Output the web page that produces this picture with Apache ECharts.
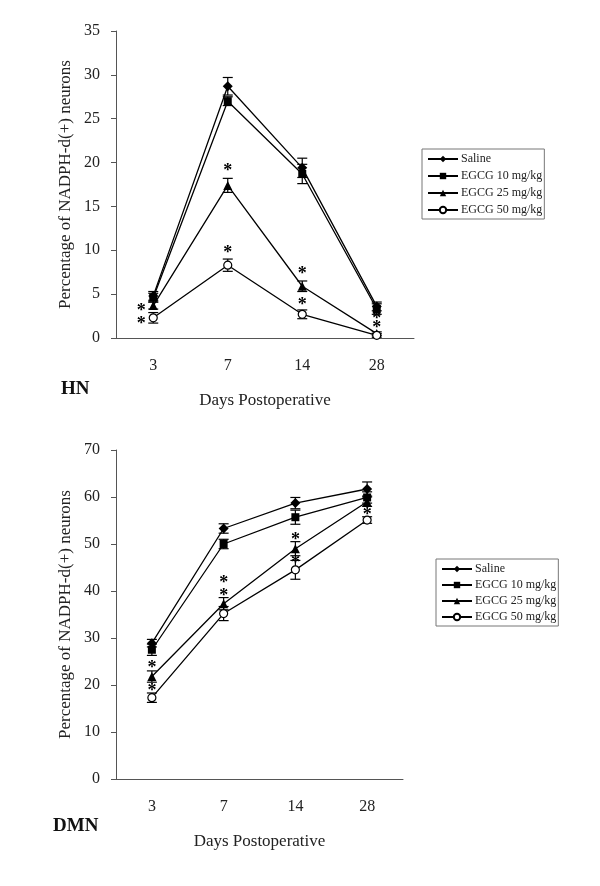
<!DOCTYPE html>
<html>
<head>
<meta charset="utf-8">
<script src="https://cdn.jsdelivr.net/npm/echarts@6/dist/echarts.min.js"></script>
<style>html,body{margin:0;padding:0;background:#fff}#c{width:600px;height:886px}</style>
</head>
<body>
<div id="c"></div>
<script>
// ---- data ----
const days = ['3', '7', '14', '28'];
const seriesNames = ['Saline', 'EGCG 10 mg/kg', 'EGCG 25 mg/kg', 'EGCG 50 mg/kg'];
const yTicksHN = [0, 5, 10, 15, 20, 25, 30, 35];
const yTicksDMN = [0, 10, 20, 30, 40, 50, 60, 70];

// HN panel (mean, error)
const hnSaline = [4.8, 28.7, 19.4, 3.6];
const hnE10 = [4.6, 27.0, 18.7, 3.3];
const hnE25 = [3.7, 17.4, 5.9, 0.5];
const hnE50 = [2.3, 8.3, 2.7, 0.3];
const hnSalineErr = [0.5, 1.0, 1.1, 0.5];
const hnE10Err = [0.5, 0.5, 1.1, 0.6];
const hnE25Err = [0.4, 0.8, 0.6, 0.2];
const hnE50Err = [0.6, 0.7, 0.5, 0.2];
// significance marks: [day index, value, side]
const hnStars = [[0, 3.5, 'left'], [0, 2.05, 'left'], [1, 19.5, 'top'], [1, 10.15, 'top'],
                 [2, 7.75, 'top'], [2, 4.14, 'top'], [3, 2.6, 'top'], [3, 1.5, 'top']];

// DMN panel (mean, error)
const dmnSaline = [28.9, 53.3, 58.7, 61.7];
const dmnE10 = [27.5, 50.0, 55.7, 59.9];
const dmnE25 = [21.8, 37.3, 49.0, 59.0];
const dmnE50 = [17.3, 35.2, 44.5, 55.1];
const dmnSalineErr = [0.8, 1.0, 1.2, 1.5];
const dmnE10Err = [1.2, 1.0, 1.5, 1.2];
const dmnE25Err = [1.2, 1.3, 1.5, 1.0];
const dmnE50Err = [1.0, 1.5, 2.0, 0.7];
const dmnStars = [[0, 24.5, 'top'], [0, 19.4, 'top'], [1, 42.4, 'top'], [1, 39.7, 'top'],
                  [2, 51.7, 'top'], [2, 46.8, 'top'], [3, 56.9, 'top']];

// ---- styling ----
const FONT = '"Liberation Serif", "Times New Roman", serif';
const AXIS_COLOR = '#555';
const TEXT_COLOR = '#222';
const symbols = ['diamond', 'rect', 'triangle', 'circle'];
const symbolSizes = [10, 8, 9, 8];

const chart = echarts.init(document.getElementById('c'), null, {renderer: 'canvas'});

function errData(mean, err) {
  return mean.map((m, i) => [i, m - err[i], m + err[i]]);
}
function errRender(params, api) {
  const lo = api.coord([api.value(0), api.value(1)]);
  const hi = api.coord([api.value(0), api.value(2)]);
  const w = 5;
  const st = {stroke: '#000', lineWidth: 1.2};
  return {type: 'group', children: [
    {type: 'line', shape: {x1: lo[0], y1: lo[1], x2: hi[0], y2: hi[1]}, style: st},
    {type: 'line', shape: {x1: lo[0] - w, y1: lo[1], x2: lo[0] + w, y2: lo[1]}, style: st},
    {type: 'line', shape: {x1: hi[0] - w, y1: hi[1], x2: hi[0] + w, y2: hi[1]}, style: st}
  ]};
}
function makeStarSeries(stars, gi) {
  return {
    type: 'custom', xAxisIndex: gi, yAxisIndex: gi, silent: true, z: 5,
    data: stars.map(s => [s[0], s[1], s[2] === 'left' ? 1 : 0]),
    renderItem: function (params, api) {
      const p = api.coord([api.value(0), api.value(1)]);
      const dx = api.value(2) === 1 ? -12 : 0;
      return {type: 'text', x: p[0] + dx, y: p[1] + 4,
        style: {text: '*', font: 'bold 18px ' + FONT, fill: '#000', textAlign: 'center', textVerticalAlign: 'middle'}};
    }
  };
}

function panelSeries(means, errs, stars, gi) {
  const out = [];
  means.forEach((m, k) => {
    out.push({type: 'custom', xAxisIndex: gi, yAxisIndex: gi, silent: true, z: 2,
      data: errData(m, errs[k]), renderItem: errRender});
  });
  means.forEach((m, k) => {
    out.push({
      type: 'line', name: seriesNames[k], xAxisIndex: gi, yAxisIndex: gi, z: 3,
      data: m, symbol: symbols[k], symbolSize: symbolSizes[k], showAllSymbol: true,
      lineStyle: {color: '#000', width: 1.3},
      itemStyle: {color: k === 3 ? '#fff' : '#000', borderColor: '#000', borderWidth: k === 3 ? 1.2 : 0},
      emphasis: {disabled: true}, animation: false
    });
  });
  out.push(makeStarSeries(stars, gi));
  return out;
}

function xAxisCfg(gi) {
  return {
    type: 'category', gridIndex: gi, data: days, boundaryGap: true,
    name: 'Days Postoperative', nameLocation: 'middle', nameGap: 54,
    nameTextStyle: {fontFamily: FONT, fontSize: 17, color: TEXT_COLOR},
    axisLine: {lineStyle: {color: AXIS_COLOR, width: 1}},
    axisTick: {inside: true, length: 5, lineStyle: {color: AXIS_COLOR}},
    axisLabel: {fontFamily: FONT, fontSize: 16, color: TEXT_COLOR, margin: 20},
    splitLine: {show: false}
  };
}
function yAxisCfg(gi, ticks) {
  return {
    type: 'value', gridIndex: gi, min: ticks[0], max: ticks[ticks.length - 1],
    interval: ticks[1] - ticks[0],
    name: 'Percentage of NADPH-d(+) neurons', nameLocation: 'middle', nameGap: 42,
    nameTextStyle: {fontFamily: FONT, fontSize: 17, color: TEXT_COLOR},
    axisLine: {show: true, lineStyle: {color: AXIS_COLOR, width: 1}},
    axisTick: {show: true, inside: false, length: 5, lineStyle: {color: AXIS_COLOR}},
    axisLabel: {fontFamily: FONT, fontSize: 16, color: TEXT_COLOR, margin: 16},
    splitLine: {show: false}
  };
}
function legendCfg(left, top, gap) {
  return {
    orient: 'vertical', left: left, top: top, data: seriesNames,
    itemWidth: 30, itemHeight: 8, itemGap: gap,
    padding: [4, 2, 3, 5],
    borderColor: '#777', borderWidth: 1, borderRadius: 0,
    selectedMode: false,
    textStyle: {fontFamily: FONT, fontSize: 12, color: TEXT_COLOR, padding: [0, 0, 0, -2]}
  };
}

const option = {
  backgroundColor: '#fff',
  animation: false,
  grid: [
    {left: 116, top: 31, width: 298, height: 307},
    {left: 116, top: 450, width: 287, height: 329}
  ],
  xAxis: [xAxisCfg(0), xAxisCfg(1)],
  yAxis: [yAxisCfg(0, yTicksHN), yAxisCfg(1, yTicksDMN)],
  legend: [legendCfg(422, 149, 5), legendCfg(436, 559, 4)],
  graphic: [
    {type: 'text', left: 61, top: 380, style: {text: 'HN', font: 'bold 19px ' + FONT, fill: '#111'}},
    {type: 'text', left: 53, top: 817, style: {text: 'DMN', font: 'bold 19px ' + FONT, fill: '#111'}}
  ],
  series: [].concat(
    panelSeries([hnSaline, hnE10, hnE25, hnE50], [hnSalineErr, hnE10Err, hnE25Err, hnE50Err], hnStars, 0),
    panelSeries([dmnSaline, dmnE10, dmnE25, dmnE50], [dmnSalineErr, dmnE10Err, dmnE25Err, dmnE50Err], dmnStars, 1)
  )
};
chart.setOption(option);
</script>
</body>
</html>
